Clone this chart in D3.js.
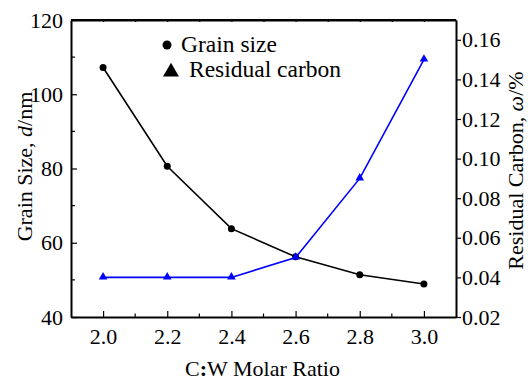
<!DOCTYPE html>
<html>
<head>
<meta charset="utf-8">
<script src="https://cdn.jsdelivr.net/npm/d3@7"></script>
<style>
  body { margin: 0; background: #fff; }
</style>
</head>
<body>
<div id="chart"></div>
<script>
// data
const ratios = [2.0, 2.2, 2.4, 2.6, 2.8, 3.0];
const grainSize = [107.2, 80.6, 63.8, 56.2, 51.4, 48.9];
const residualCarbon = [0.040, 0.040, 0.040, 0.050, 0.090, 0.150];
const xTicks = [2.0, 2.2, 2.4, 2.6, 2.8, 3.0];
const leftTicks = [40, 60, 80, 100, 120];
const rightTicks = [0.02, 0.04, 0.06, 0.08, 0.10, 0.12, 0.14, 0.16];

const serif = '"Liberation Serif", "Times New Roman", serif';
const width = 528, height = 381;
const margin = { top: 20, right: 72, bottom: 64, left: 71 };
const innerW = width - margin.left - margin.right;
const innerH = height - margin.top - margin.bottom;

let svg = d3.select("#chart")
    .append("svg")
    .attr("width", width)
    .attr("height", height)
    .attr("font-family", serif);

let g = svg.append("g")
    .attr("transform", `translate(${margin.left}, ${margin.top})`);

let xScale = d3.scaleLinear().domain([1.9, 3.1]).range([0, innerW]);
let yLeft = d3.scaleLinear().domain([40, 120]).range([innerH, 0]);
let yRight = d3.scaleLinear().domain([0.02, 0.17]).range([innerH, 0]);

// bottom axis, ticks pointing in
let xAxis = g.append("g")
    .attr("transform", `translate(0, ${innerH})`)
    .call(d3.axisBottom(xScale).tickValues(xTicks).tickSizeInner(-6).tickSizeOuter(0)
        .tickFormat(d3.format(".1f")).tickPadding(11));

// minor x ticks
g.append("g").selectAll("line")
    .data([2.1, 2.3, 2.5, 2.7, 2.9])
    .enter().append("line")
    .attr("x1", d => xScale(d)).attr("x2", d => xScale(d))
    .attr("y1", innerH).attr("y2", innerH - 3.5)
    .attr("stroke", "#000").attr("stroke-width", 1.2);

// top axis small ticks
g.append("g")
    .call(d3.axisTop(xScale).tickValues([2.0, 2.1, 2.2, 2.3, 2.4, 2.5, 2.6, 2.7, 2.8, 2.9, 3.0])
        .tickSizeInner(-2).tickSizeOuter(0).tickFormat(""));

// left axis, ticks in
let yAxisL = g.append("g")
    .call(d3.axisLeft(yLeft).tickValues(leftTicks).tickSizeInner(-6).tickSizeOuter(0).tickPadding(8));

g.append("g").selectAll("line")
    .data([50, 70, 90, 110])
    .enter().append("line")
    .attr("x1", 0).attr("x2", 4)
    .attr("y1", d => yLeft(d)).attr("y2", d => yLeft(d))
    .attr("stroke", "#000").attr("stroke-width", 1.2);

// right axis, ticks out
let yAxisR = g.append("g")
    .attr("transform", `translate(${innerW}, 0)`)
    .call(d3.axisRight(yRight).tickValues(rightTicks).tickSizeInner(5).tickSizeOuter(0)
        .tickFormat(d3.format(".2f")).tickPadding(1));

// axis fonts and line weights
g.selectAll(".tick text")
    .attr("font-family", serif)
    .attr("font-size", "22px")
    .attr("fill", "#000");
g.selectAll("g").attr("font-family", serif);
g.selectAll(".domain").attr("stroke-width", 2);
g.selectAll(".tick line").attr("stroke-width", 1.2);
g.append("line")
    .attr("x1", 0).attr("x2", innerW).attr("y1", 0).attr("y2", 0)
    .attr("stroke", "#000").attr("stroke-width", 2);

// grain size line
let grainLine = d3.line()
    .x((d, i) => xScale(ratios[i]))
    .y(d => yLeft(d));

g.append("path")
    .datum(grainSize)
    .attr("d", grainLine)
    .attr("fill", "none")
    .attr("stroke", "#000")
    .attr("stroke-width", 1.6);

g.append("g").selectAll("circle")
    .data(grainSize)
    .enter().append("circle")
    .attr("cx", (d, i) => xScale(ratios[i]))
    .attr("cy", d => yLeft(d))
    .attr("r", 3.5)
    .attr("fill", "#000");

// residual carbon line
let carbonLine = d3.line()
    .x((d, i) => xScale(ratios[i]))
    .y(d => yRight(d));

g.append("path")
    .datum(residualCarbon)
    .attr("d", carbonLine)
    .attr("fill", "none")
    .attr("stroke", "#0000ff")
    .attr("stroke-width", 1.6);

let tri = d3.symbol().type(d3.symbolTriangle).size(32);
g.append("g").selectAll("path")
    .data(residualCarbon)
    .enter().append("path")
    .attr("d", tri)
    .attr("transform", (d, i) => `translate(${xScale(ratios[i])}, ${yRight(d) - 0.5})`)
    .attr("fill", "#0000ff");

// legend
svg.append("circle")
    .attr("cx", 167).attr("cy", 45).attr("r", 4.5)
    .attr("fill", "#000");
svg.append("text")
    .attr("x", 181).attr("y", 52)
    .attr("font-size", "23.5px")
    .text("Grain size");
svg.append("path")
    .attr("d", d3.symbol().type(d3.symbolTriangle).size(110))
    .attr("transform", "translate(171, 72)")
    .attr("fill", "#000");
svg.append("text")
    .attr("x", 189).attr("y", 77)
    .attr("font-size", "23.5px")
    .text("Residual carbon");

// axis titles
svg.append("text")
    .attr("transform", `translate(32, ${margin.top + innerH / 2 - 2}) rotate(-90)`)
    .attr("text-anchor", "middle")
    .attr("font-size", "22px")
    .html('Grain Size, <tspan font-style="italic">d</tspan>/nm');

svg.append("text")
    .attr("transform", `translate(523, ${margin.top + innerH / 2 + 2}) rotate(-90)`)
    .attr("text-anchor", "middle")
    .attr("font-size", "22px")
    .html('Residual Carbon, <tspan font-style="italic">ω</tspan>/%');

svg.append("text")
    .attr("x", margin.left + innerW / 2 - 1)
    .attr("y", 376)
    .attr("text-anchor", "middle")
    .attr("font-size", "22px")
    .html('C<tspan font-weight="bold">:</tspan>W Molar Ratio');
</script>
</body>
</html>
